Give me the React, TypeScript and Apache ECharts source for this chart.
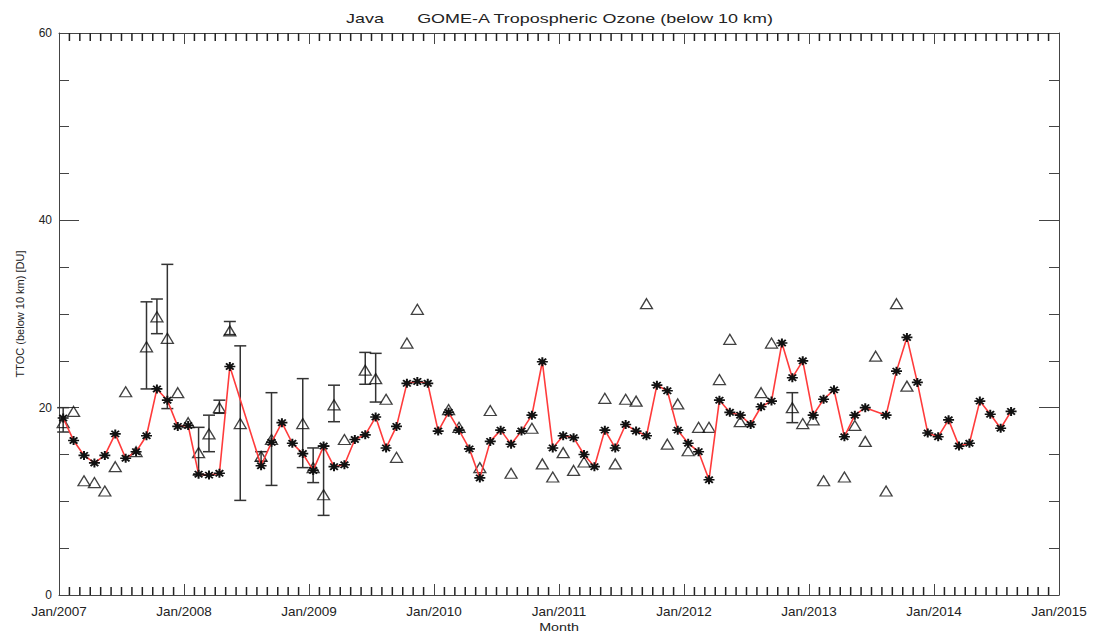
import React, { useEffect, useRef } from 'react';
import * as echarts from 'echarts';

const tickYears = ['2007', '2008', '2009', '2010', '2011', '2012', '2013', '2014', '2015'];
const tickLabels = tickYears.map((y) => 'Jan/' + y);
const yTicks = [0, 20, 40, 60];
const monthTicks = Array.from({ length: 97 }, (_, i) => i).filter((m) => m % 12 !== 0);

// Monthly TTOC (red line with asterisks), index 0 = Jan 2007
const ttoc: (number | null)[] = [
  18.9, 16.5, 14.9, 14.1, 14.9, 17.2, 14.6, 15.3, 17.0, 22.0, 20.8, 18.0,
  18.1, 12.9, 12.8, 13.0, 24.4, null, null, 13.8, 16.3, 18.4, 16.2, 15.1,
  13.3, 15.9, 13.7, 13.9, 16.6, 17.1, 19.0, 15.7, 18.0, 22.6, 22.8, 22.6,
  17.5, 19.5, 17.6, 15.6, 12.5, 16.4, 17.6, 16.1, 17.5, 19.2, 24.9, 15.7,
  17.0, 16.8, 15.0, 13.7, 17.6, 15.7, 18.2, 17.5, 17.0, 22.4, 21.8, 17.6,
  16.2, 15.3, 12.3, 20.8, 19.5, 19.2, 18.2, 20.1, 20.7, 26.9, 23.2, 25.0,
  19.2, 20.9, 21.9, 16.9, 19.2, 20.0, null, 19.2, 23.9, 27.5, 22.7, 17.3,
  16.9, 18.7, 15.9, 16.2, 20.7, 19.3, 17.8, 19.6,
];

// Comparison values (open triangles), index 0 = Jan 2007
const triangles: (number | null)[] = [
  18.4, 19.6, 12.2, 12.0, 11.1, 13.7, 21.7, 15.3, 26.5, 29.7, 27.4, 21.6,
  18.4, 15.2, 17.2, 20.0, 28.2, 18.3, null, 14.8, 16.6, null, null, 18.3,
  13.6, 10.7, 20.3, 16.6, null, 24.0, 23.1, 20.9, 14.7, 26.9, 30.5, null,
  null, 19.8, 17.9, null, 13.6, 19.7, null, 13.0, null, 17.8, 14.0, 12.6,
  15.2, 13.3, 14.2, null, 21.0, 14.0, 20.9, 20.7, 31.1, null, 16.1, 20.4,
  15.4, 17.9, 17.9, 23.0, 27.3, 18.5, null, 21.6, 26.9, null, 20.0, 18.3,
  18.7, 12.2, null, 12.6, 18.1, 16.4, 25.5, 11.1, 31.1, 22.3,
];

// Error bars on some triangles
const errIdx = [0, 8, 9, 10, 13, 14, 15, 16, 17, 19, 20, 23, 24, 25, 26, 29, 30, 70];
const errLow = [17.4, 22.0, 27.9, 19.9, 12.8, 15.3, 19.4, 27.8, 10.1, 14.3, 11.7, 13.6, 12.0, 8.5, 18.5, 22.5, 20.6, 18.4];
const errHigh = [20.0, 31.3, 31.6, 35.3, 17.9, 19.2, 20.8, 29.2, 26.6, 15.3, 21.6, 23.1, 15.7, 15.9, 22.4, 25.9, 25.8, 21.6];

const MONTH_OFFSET = 0.4;
const FONT = 'Liberation Sans, Arial, Helvetica, sans-serif';
const TXT = '#222';
const AX = '#444';

export default function App() {
  const ref = useRef<HTMLDivElement>(null);
  useEffect(() => {
    const chart = echarts.init(ref.current!, null, { renderer: 'svg' });
    const ASTER = 'path://M0,5L10,5M5,0L5,10M1.5,1.5L8.5,8.5M1.5,8.5L8.5,1.5';

    const lineData = ttoc.map((v, i) => [i + MONTH_OFFSET, v]);
    const triData = triangles
      .map((v, i) => (v === null ? null : [i + MONTH_OFFSET, v]))
      .filter((d) => d !== null);
    const errData = errIdx.map((i, k) => [i + MONTH_OFFSET, errLow[k], errHigh[k]]);
    const tickData = monthTicks.map((m) => [m, 0, 60]);

    const axisLine = { show: true, onZero: false, lineStyle: { color: AX, width: 1 } };
    const xMajor = {
      type: 'value',
      min: 0,
      max: 96,
      interval: 12,
      splitLine: { show: false },
      axisLine,
      axisTick: { show: true, inside: true, length: 11, lineStyle: { color: AX } },
    };
    const yCommon = {
      type: 'value',
      min: 0,
      max: 60,
      interval: 20,
      splitLine: { show: false },
      axisLine,
      axisTick: { show: true, inside: true, length: 20, lineStyle: { color: AX } },
      minorTick: { show: true, splitNumber: 4, length: 10, lineStyle: { color: AX } },
    };

    const ends = (api: any) => {
      const x = api.value(0);
      return { lo: api.coord([x, api.value(1)]), hi: api.coord([x, api.value(2)]) };
    };

    chart.setOption({
      animation: false,
      backgroundColor: '#fff',
      grid: { left: 59, right: 35, top: 33, bottom: 39, containLabel: false },
      xAxis: [
        {
          ...xMajor,
          position: 'bottom',
          axisLabel: {
            show: true,
            margin: 9,
            fontSize: 13.5,
            fontFamily: FONT,
            color: TXT,
            formatter: (v: number) => tickLabels[Math.round(v / 12)] ?? '',
          },
        },
        { ...xMajor, position: 'top', axisLabel: { show: false } },
      ],
      yAxis: [
        {
          ...yCommon,
          position: 'left',
          axisLabel: {
            show: true,
            margin: 7,
            fontSize: 12,
            fontFamily: FONT,
            color: TXT,
            formatter: (v: number) => (yTicks.includes(v) ? String(v) : ''),
          },
        },
        { ...yCommon, position: 'right', axisLabel: { show: false } },
      ],
      graphic: [
        {
          type: 'text', x: 365, y: 18, scaleX: 1.38,
          style: { text: 'Java', fontSize: 13, fontFamily: FONT, fill: TXT, textAlign: 'center', textVerticalAlign: 'middle' },
        },
        {
          type: 'text', x: 595, y: 18, scaleX: 1.38,
          style: { text: 'GOME-A Tropospheric Ozone (below 10 km)', fontSize: 13, fontFamily: FONT, fill: TXT, textAlign: 'center', textVerticalAlign: 'middle' },
        },
        {
          type: 'text', x: 559, y: 627, scaleX: 1.3,
          style: { text: 'Month', fontSize: 11, fontFamily: FONT, fill: TXT, textAlign: 'center', textVerticalAlign: 'middle' },
        },
        {
          type: 'text', x: 20, y: 314, rotation: Math.PI / 2,
          style: { text: 'TTOC (below 10 km) [DU]', fontSize: 11, fontFamily: FONT, fill: TXT, textAlign: 'center', textVerticalAlign: 'middle' },
        },
      ],
      series: [
        {
          type: 'custom',
          z: 5,
          silent: true,
          clip: false,
          data: tickData,
          renderItem: (params: any, api: any) => {
            const { lo, hi } = ends(api);
            const st = { stroke: '#222', lineWidth: 1.5 };
            return {
              type: 'group',
              children: [
                { type: 'line', shape: { x1: lo[0], y1: lo[1] - 8, x2: lo[0], y2: lo[1] }, style: st },
                { type: 'line', shape: { x1: hi[0], y1: hi[1], x2: hi[0], y2: hi[1] + 8 }, style: st },
              ],
            };
          },
        },
        {
          type: 'custom',
          z: 2,
          data: errData,
          renderItem: (params: any, api: any) => {
            const { lo, hi } = ends(api);
            const st = { stroke: '#333', lineWidth: 1.5 };
            const w = 6;
            return {
              type: 'group',
              children: [
                { type: 'line', shape: { x1: lo[0], y1: lo[1], x2: hi[0], y2: hi[1] }, style: st },
                { type: 'line', shape: { x1: lo[0] - w, y1: lo[1], x2: lo[0] + w, y2: lo[1] }, style: st },
                { type: 'line', shape: { x1: hi[0] - w, y1: hi[1], x2: hi[0] + w, y2: hi[1] }, style: st },
              ],
            };
          },
        },
        {
          type: 'scatter',
          z: 3,
          data: triData,
          symbol: 'triangle',
          symbolSize: [12, 10],
          itemStyle: { color: 'rgba(0,0,0,0)', borderColor: '#111', borderWidth: 1.3 },
        },
        {
          type: 'line',
          z: 4,
          data: lineData,
          connectNulls: true,
          showAllSymbol: true,
          symbol: ASTER,
          symbolSize: [11, 9],
          lineStyle: { color: '#ff3b3b', width: 1.6 },
          itemStyle: { color: 'rgba(0,0,0,0)', borderColor: '#111', borderWidth: 1.8 },
        },
      ],
    });
    return () => chart.dispose();
  }, []);
  return (
    <div
      ref={ref}
      style={{ position: 'fixed', left: 0, top: 0, width: 1094, height: 634, background: '#fff' }}
    />
  );
}
